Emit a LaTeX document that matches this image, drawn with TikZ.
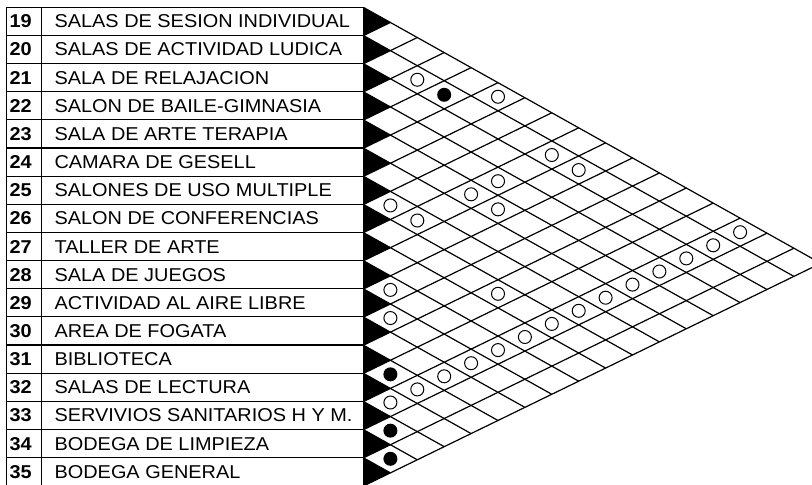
\documentclass[tikz,border=0pt]{standalone}
\usepackage{fontspec}
\setmainfont{Liberation Sans}[FakeStretch=1.07]
\usepackage{tikz}

\begin{document}
\begin{tikzpicture}[
  x=1pt,y=-1pt,
  line width=1.2pt,
  rowno/.style={font=\bfseries\fontsize{18.6}{20}\selectfont,anchor=base west,inner sep=0pt},
  rowlbl/.style={font=\fontsize{18.6}{20}\selectfont,anchor=base west,inner sep=0pt},
  gridline/.style={line width=1.2pt},
  rel/.style={circle,draw,line width=1pt,fill=white,minimum size=13pt,inner sep=0pt},
  relstrong/.style={circle,fill=black,minimum size=14pt,inner sep=0pt}
]
\useasboundingbox (0,0) rectangle (812,485);

% ===================== table of spaces =====================
\foreach \k in {0,...,17}
  \draw (6.7,{7.2+28.15*\k}) -- (363.5,{7.2+28.15*\k});
\draw (6.7,7.2) -- (6.7,486);
\draw (41.7,7.2) -- (41.7,486);
\draw (363.5,7.2) -- (363.5,486);

\foreach \n/\txt [count=\k from 0] in {
  19/SALAS DE SESION INDIVIDUAL,
  20/SALAS DE ACTIVIDAD LUDICA,
  21/SALA DE RELAJACION,
  22/SALON DE BAILE-GIMNASIA,
  23/SALA DE ARTE TERAPIA,
  24/CAMARA DE GESELL,
  25/SALONES DE USO MULTIPLE,
  26/SALON DE CONFERENCIAS,
  27/TALLER DE ARTE,
  28/SALA DE JUEGOS,
  29/ACTIVIDAD AL AIRE LIBRE,
  30/AREA DE FOGATA,
  31/BIBLIOTECA,
  32/SALAS DE LECTURA,
  33/SERVIVIOS SANITARIOS H Y M.,
  34/BODEGA DE LIMPIEZA,
  35/BODEGA GENERAL}{
  \node[rowno] (no\n) at (9,{27.8+28.15*\k}) {\n};
  \node[rowlbl] (lbl\n) at (54,{27.8+28.15*\k}) {\txt};
}

% ===================== relation matrix =====================
% lattice: (j,i) = cell between row i and row j
\begin{scope}[shift={(363.5,21.5)},x={(26.9pt,-15.05pt)},y={(-26.9pt,-13.1pt)}]
  % row pointers
  \foreach \k in {0,...,16}
    \fill ({\k-0.5},{\k-0.5}) -- ({\k+0.5},{\k-0.5}) -- ({\k+0.5},{\k+0.5}) -- cycle;
  % diagonals
  \foreach \k in {0,...,16}
    \draw[gridline] ({\k-0.5},{\k-0.5}) -- (16.5,{\k-0.5});
  \foreach \k in {1,...,17}
    \draw[gridline] ({\k-0.5},{\k-0.5}) -- ({\k-0.5},-0.5);

  % desirable relation
  \foreach \i/\j in {1/3,0/5,1/8,1/9,3/8,4/8,4/9,6/7,6/8,9/10,10/11,7/12,
                     0/14,1/14,2/14,3/14,4/14,5/14,6/14,7/14,8/14,9/14,10/14,11/14,12/14,13/14}
    \node[rel] (r\i-\j) at (\j,\i) {};
  % necessary relation
  \foreach \i/\j in {1/4,12/13,14/15,15/16}
    \node[relstrong] (s\i-\j) at (\j,\i) {};
\end{scope}

\end{tikzpicture}
\end{document}
